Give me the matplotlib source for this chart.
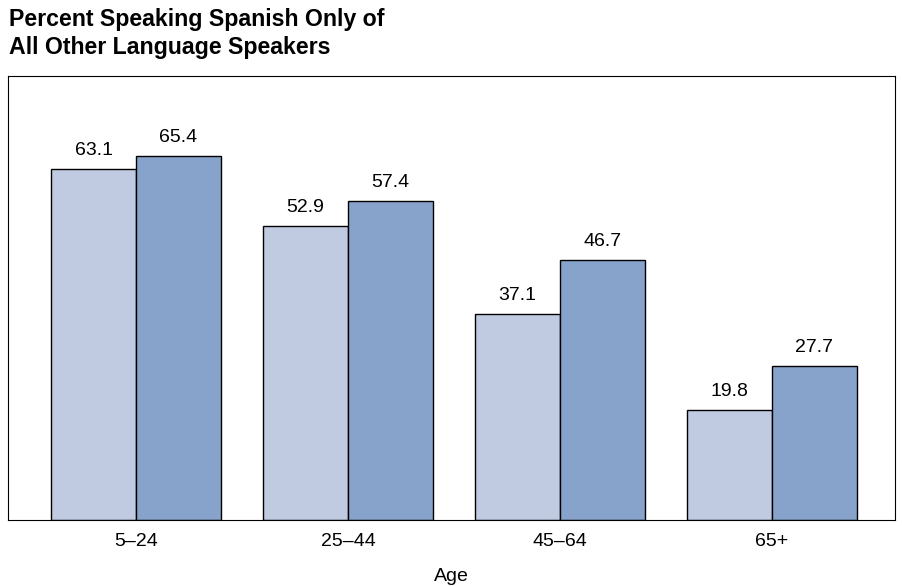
import numpy as np
import matplotlib.pyplot as plt

plt.rcParams['font.family'] = ['Liberation Sans', 'DejaVu Sans']

ages = ["5–24", "25–44", "45–64", "65+"]
series_a = [63.1, 52.9, 37.1, 19.8]
series_b = [65.4, 57.4, 46.7, 27.7]

light = "#c0cbe2"
dark = "#87a3cb"

fig = plt.figure(figsize=(9.03, 5.86), dpi=100)
ax = fig.add_axes([8 / 903, 1 - 520 / 586, 887 / 903, 444 / 586])

x = np.arange(len(ages))
w = 0.4
b1 = ax.bar(x - w / 2, series_a, w, color=light, edgecolor="black", linewidth=1)
b2 = ax.bar(x + w / 2, series_b, w, color=dark, edgecolor="black", linewidth=1)

for bars in (b1, b2):
    for r in bars:
        ax.annotate(f"{r.get_height():.1f}", (r.get_x() + r.get_width() / 2, r.get_height()),
                    xytext=(0, 7), textcoords="offset points", ha="center", va="bottom",
                    fontsize=14)

ax.set_xlim(-0.604, 3.58)
ax.set_ylim(0, 79.8)
ax.set_yticks([])
ax.set_xticks(x)
ax.set_xticklabels(ages, fontsize=14)
ax.tick_params(axis="x", length=0, pad=9)
for s in ax.spines.values():
    s.set_linewidth(0.8)

ax.set_xlabel("Age", fontsize=14, labelpad=13)

fig.text(9 / 903, 1 - 8 / 586, "Percent Speaking Spanish Only of\nAll Other Language Speakers",
         ha="left", va="top", fontsize=16.7, fontweight="bold", linespacing=1.3)

fig.savefig("out.png", dpi=100)
